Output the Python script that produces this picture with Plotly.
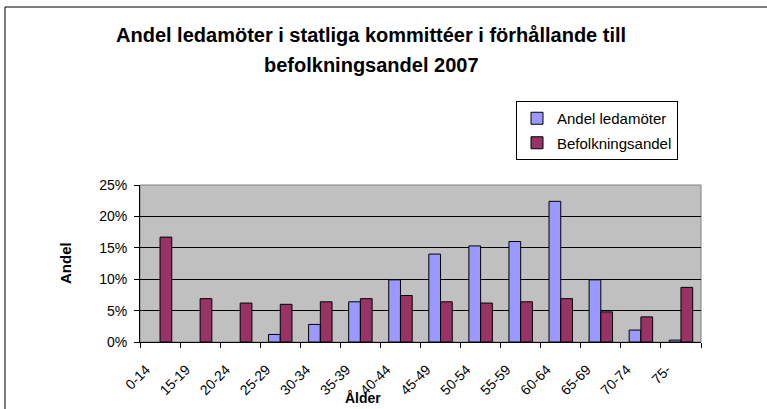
import plotly.graph_objects as go

categories = ["0-14", "15-19", "20-24", "25-29", "30-34", "35-39", "40-44",
              "45-49", "50-54", "55-59", "60-64", "65-69", "70-74", "75-"]
andel_ledamoter = [None, None, None, 0.012, 0.028, 0.064, 0.099,
                   0.140, 0.153, 0.160, 0.224, 0.099, 0.019, 0.003]
befolkningsandel = [0.167, 0.069, 0.062, 0.060, 0.064, 0.069, 0.074,
                    0.064, 0.062, 0.064, 0.069, 0.048, 0.040, 0.087]
y_ticks = [0, 0.05, 0.10, 0.15, 0.20, 0.25]
y_ticklabels = ["0%", "5%", "10%", "15%", "20%", "25%"]

W, H = 767, 409
L, R, T, B = 140, 66, 185, 67
pw, ph = W - L - R, H - T - B

def px_x(x):
    return (x - L) / pw

def px_y(y):
    return (H - B - y) / ph

fig = go.Figure()
fig.add_trace(go.Bar(x=categories, y=andel_ledamoter, name="Andel ledamöter",
                     marker=dict(color="#9999FF", line=dict(color="black", width=1)),
                     legendgroup="a"))
fig.add_trace(go.Bar(x=categories, y=befolkningsandel, name="Befolkningsandel",
                     marker=dict(color="#993366", line=dict(color="black", width=1)),
                     legendgroup="b"))

font = "Arial, Liberation Sans, sans-serif"

fig.update_layout(
    width=W, height=H,
    margin=dict(l=L, r=R, t=T, b=B),
    paper_bgcolor="white",
    plot_bgcolor="#C0C0C0",
    barmode="group", bargap=0.415, bargroupgap=0,
    font=dict(family=font, size=13, color="black"),
    showlegend=True,
    legend=dict(x=px_x(516), y=px_y(101), xanchor="left", yanchor="top",
                bordercolor="black", borderwidth=1, bgcolor="white",
                font=dict(size=15), traceorder="grouped", tracegroupgap=2,
                itemwidth=30),
    xaxis=dict(type="category", showline=True, linecolor="black", linewidth=1,
               ticks="outside", tickson="boundaries", ticklen=5, tickcolor="black",
               tickangle=-45, tickfont=dict(size=14), showgrid=False,
               ticklabelstandoff=13, ticklabelshift=-14,
               range=[-0.5, 13.5]),
    yaxis=dict(range=[0, 0.25], tickvals=y_ticks, ticktext=y_ticklabels,
               showline=True, linecolor="black", linewidth=1, ticks="outside",
               ticklen=5, tickcolor="black", showgrid=True, gridcolor="black",
               gridwidth=1, zeroline=False, tickfont=dict(size=14),
               ticklabelstandoff=4),
    annotations=[
        dict(text="<b>Andel ledamöter i statliga kommittéer i förhållande till</b>",
             x=px_x(371), y=px_y(35), xref="paper", yref="paper",
             xanchor="center", yanchor="middle", showarrow=False,
             font=dict(size=20, family=font)),
        dict(text="<b>befolkningsandel 2007</b>",
             x=px_x(371), y=px_y(65), xref="paper", yref="paper",
             xanchor="center", yanchor="middle", showarrow=False,
             font=dict(size=20, family=font)),
        dict(text="<b>Andel</b>", textangle=-90, x=px_x(65), y=px_y(263),
             xref="paper", yref="paper", xanchor="center", yanchor="middle",
             showarrow=False, font=dict(size=15, family=font)),
        dict(text="<b>Ålder</b>", x=px_x(363), y=px_y(398),
             xref="paper", yref="paper", xanchor="center", yanchor="middle",
             showarrow=False, font=dict(size=14, family=font)),
    ],
    shapes=[
        dict(type="rect", xref="paper", yref="paper",
             x0=0, x1=1, y0=0, y1=1, line=dict(color="#808080", width=1),
             fillcolor="rgba(0,0,0,0)", layer="below"),
        dict(type="rect", xref="paper", yref="paper",
             x0=px_x(5), x1=px_x(800), y0=px_y(440), y1=px_y(7),
             line=dict(color="black", width=1), fillcolor="rgba(0,0,0,0)"),
    ],
)

fig.write_html("out.html", config={"displayModeBar": False},
               post_script="document.body.style.margin='0';document.body.style.overflow='hidden';")
